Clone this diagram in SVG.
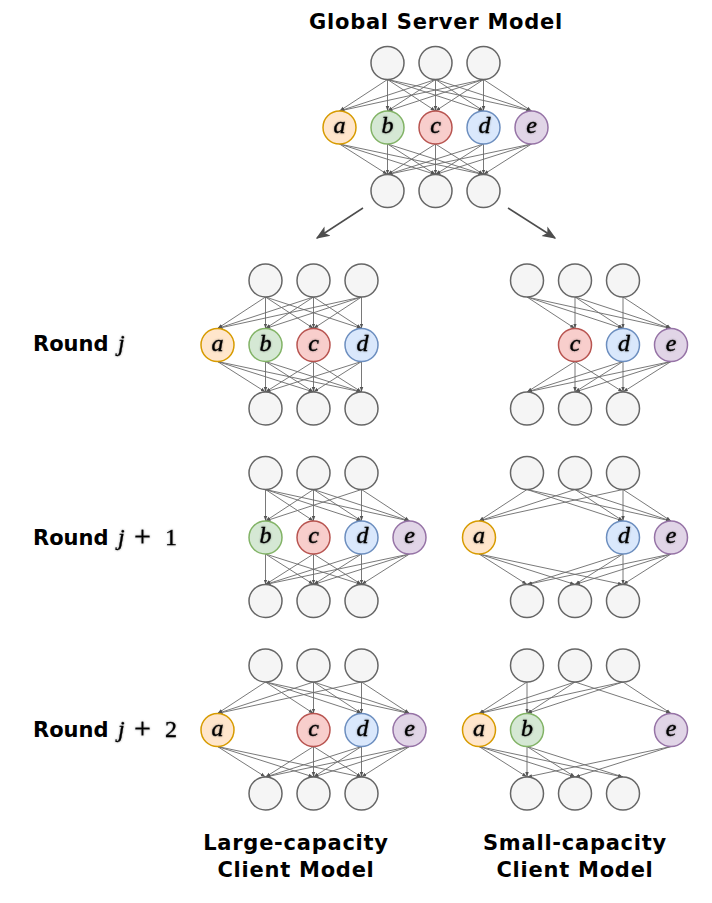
<svg xmlns="http://www.w3.org/2000/svg" width="712" height="903" viewBox="0 0 712 903">
<defs>
<style>
.n{fill:#f5f5f5;stroke:#666;stroke-width:1.5}
.na{fill:#ffe6cc;stroke:#d79b00;stroke-width:1.5}
.nb{fill:#d5e8d4;stroke:#82b366;stroke-width:1.5}
.nc{fill:#f8cecc;stroke:#b85450;stroke-width:1.5}
.nd{fill:#dae8fc;stroke:#6c8ebf;stroke-width:1.5}
.ne{fill:#e1d5e7;stroke:#9673a6;stroke-width:1.5}
.lt{font-family:"Liberation Serif","Times New Roman",serif;font-style:italic;font-size:24px;fill:#000;stroke:#000;stroke-width:0.35;text-anchor:middle;filter:url(#glow)}
.edges line{stroke:#6a6a6a;stroke-width:0.9;marker-end:url(#ah)}
.t{font-family:"DejaVu Sans",Verdana,sans-serif;font-weight:bold;font-size:21px;fill:#000}
.w{letter-spacing:0.75px}
.m{font-family:"Liberation Serif","Times New Roman",serif;font-size:24px;fill:#000;stroke:#000;stroke-width:0.3;filter:url(#glow)}
.mi{font-style:italic}
.plus{font-size:30px}
</style>
<marker id="ah" viewBox="0 0 10 10" refX="10" refY="5" markerWidth="5" markerHeight="5" markerUnits="userSpaceOnUse" orient="auto"><path d="M0,1.5L10,5L0,8.5z" fill="#555"/></marker>
<marker id="bigah" viewBox="0 0 10 10" refX="9" refY="5" markerWidth="14" markerHeight="14" markerUnits="userSpaceOnUse" orient="auto"><path d="M0,1L10,5L0,9L2.5,5z" fill="#4d4d4d"/></marker>
<filter id="glow" x="-30%" y="-30%" width="160%" height="160%">
<feGaussianBlur in="SourceAlpha" stdDeviation="1.3" result="b"/>
<feFlood flood-color="#000" flood-opacity="0.4"/>
<feComposite in2="b" operator="in" result="s"/>
<feMerge><feMergeNode in="s"/><feMergeNode in="SourceGraphic"/></feMerge>
</filter>
</defs>
<rect width="712" height="903" fill="#fff"/>

<g id="connectors" class="edges">
<!-- server top -->
<g transform="translate(0,79.5)">
<line x1="387.5" y1="0" x2="339.5" y2="31.5"/><line x1="387.5" y1="0" x2="387.5" y2="31.5"/><line x1="387.5" y1="0" x2="435.5" y2="31.5"/><line x1="387.5" y1="0" x2="483.5" y2="31.5"/><line x1="387.5" y1="0" x2="531.5" y2="31.5"/>
<line x1="435.5" y1="0" x2="339.5" y2="31.5"/><line x1="435.5" y1="0" x2="387.5" y2="31.5"/><line x1="435.5" y1="0" x2="435.5" y2="31.5"/><line x1="435.5" y1="0" x2="483.5" y2="31.5"/><line x1="435.5" y1="0" x2="531.5" y2="31.5"/>
<line x1="483.5" y1="0" x2="339.5" y2="31.5"/><line x1="483.5" y1="0" x2="387.5" y2="31.5"/><line x1="483.5" y1="0" x2="435.5" y2="31.5"/><line x1="483.5" y1="0" x2="483.5" y2="31.5"/><line x1="483.5" y1="0" x2="531.5" y2="31.5"/>
</g>
<!-- server bottom -->
<g transform="translate(0,144)">
<line x1="339.5" y1="0" x2="387.5" y2="30.5"/><line x1="339.5" y1="0" x2="435.5" y2="30.5"/><line x1="339.5" y1="0" x2="483.5" y2="30.5"/>
<line x1="387.5" y1="0" x2="387.5" y2="30.5"/><line x1="387.5" y1="0" x2="435.5" y2="30.5"/><line x1="387.5" y1="0" x2="483.5" y2="30.5"/>
<line x1="435.5" y1="0" x2="387.5" y2="30.5"/><line x1="435.5" y1="0" x2="435.5" y2="30.5"/><line x1="435.5" y1="0" x2="483.5" y2="30.5"/>
<line x1="483.5" y1="0" x2="387.5" y2="30.5"/><line x1="483.5" y1="0" x2="435.5" y2="30.5"/><line x1="483.5" y1="0" x2="483.5" y2="30.5"/>
<line x1="531.5" y1="0" x2="387.5" y2="30.5"/><line x1="531.5" y1="0" x2="435.5" y2="30.5"/><line x1="531.5" y1="0" x2="483.5" y2="30.5"/>
</g>
<!-- large j top: mids a b c d -->
<g transform="translate(0,297)">
<line x1="265.5" y1="0" x2="217.5" y2="31.5"/><line x1="265.5" y1="0" x2="265.5" y2="31.5"/><line x1="265.5" y1="0" x2="313.5" y2="31.5"/><line x1="265.5" y1="0" x2="361.5" y2="31.5"/>
<line x1="313.5" y1="0" x2="217.5" y2="31.5"/><line x1="313.5" y1="0" x2="265.5" y2="31.5"/><line x1="313.5" y1="0" x2="313.5" y2="31.5"/><line x1="313.5" y1="0" x2="361.5" y2="31.5"/>
<line x1="361.5" y1="0" x2="217.5" y2="31.5"/><line x1="361.5" y1="0" x2="265.5" y2="31.5"/><line x1="361.5" y1="0" x2="313.5" y2="31.5"/><line x1="361.5" y1="0" x2="361.5" y2="31.5"/>
</g>
<g transform="translate(0,361.5)">
<line x1="217.5" y1="0" x2="265.5" y2="30.5"/><line x1="217.5" y1="0" x2="313.5" y2="30.5"/><line x1="217.5" y1="0" x2="361.5" y2="30.5"/>
<line x1="265.5" y1="0" x2="265.5" y2="30.5"/><line x1="265.5" y1="0" x2="313.5" y2="30.5"/><line x1="265.5" y1="0" x2="361.5" y2="30.5"/>
<line x1="313.5" y1="0" x2="265.5" y2="30.5"/><line x1="313.5" y1="0" x2="313.5" y2="30.5"/><line x1="313.5" y1="0" x2="361.5" y2="30.5"/>
<line x1="361.5" y1="0" x2="265.5" y2="30.5"/><line x1="361.5" y1="0" x2="313.5" y2="30.5"/><line x1="361.5" y1="0" x2="361.5" y2="30.5"/>
</g>
<!-- small j: mids c d e -->
<g transform="translate(0,297)">
<line x1="527" y1="0" x2="575" y2="31.5"/><line x1="527" y1="0" x2="623" y2="31.5"/><line x1="527" y1="0" x2="671" y2="31.5"/>
<line x1="575" y1="0" x2="575" y2="31.5"/><line x1="575" y1="0" x2="623" y2="31.5"/><line x1="575" y1="0" x2="671" y2="31.5"/>
<line x1="623" y1="0" x2="623" y2="31.5"/><line x1="623" y1="0" x2="671" y2="31.5"/>
</g>
<g transform="translate(0,361.5)">
<line x1="575" y1="0" x2="527" y2="30.5"/><line x1="575" y1="0" x2="575" y2="30.5"/><line x1="575" y1="0" x2="623" y2="30.5"/>
<line x1="623" y1="0" x2="527" y2="30.5"/><line x1="623" y1="0" x2="575" y2="30.5"/><line x1="623" y1="0" x2="623" y2="30.5"/>
<line x1="671" y1="0" x2="527" y2="30.5"/><line x1="671" y1="0" x2="575" y2="30.5"/><line x1="671" y1="0" x2="623" y2="30.5"/>
</g>
<!-- large j+1: mids b c d e -->
<g transform="translate(0,489.5)">
<line x1="265.5" y1="0" x2="265.5" y2="31.5"/><line x1="265.5" y1="0" x2="313.5" y2="31.5"/><line x1="265.5" y1="0" x2="361.5" y2="31.5"/><line x1="265.5" y1="0" x2="409.5" y2="31.5"/>
<line x1="313.5" y1="0" x2="265.5" y2="31.5"/><line x1="313.5" y1="0" x2="313.5" y2="31.5"/><line x1="313.5" y1="0" x2="361.5" y2="31.5"/><line x1="313.5" y1="0" x2="409.5" y2="31.5"/>
<line x1="361.5" y1="0" x2="265.5" y2="31.5"/><line x1="361.5" y1="0" x2="361.5" y2="31.5"/><line x1="361.5" y1="0" x2="409.5" y2="31.5"/>
</g>
<g transform="translate(0,554)">
<line x1="265.5" y1="0" x2="265.5" y2="30.5"/><line x1="265.5" y1="0" x2="313.5" y2="30.5"/><line x1="265.5" y1="0" x2="361.5" y2="30.5"/>
<line x1="313.5" y1="0" x2="265.5" y2="30.5"/><line x1="313.5" y1="0" x2="313.5" y2="30.5"/><line x1="313.5" y1="0" x2="361.5" y2="30.5"/>
<line x1="361.5" y1="0" x2="265.5" y2="30.5"/><line x1="361.5" y1="0" x2="313.5" y2="30.5"/><line x1="361.5" y1="0" x2="361.5" y2="30.5"/>
<line x1="409.5" y1="0" x2="265.5" y2="30.5"/><line x1="409.5" y1="0" x2="313.5" y2="30.5"/><line x1="409.5" y1="0" x2="361.5" y2="30.5"/>
</g>
<!-- small j+1: mids a d e -->
<g transform="translate(0,489.5)">
<line x1="527" y1="0" x2="479" y2="31.5"/><line x1="527" y1="0" x2="623" y2="31.5"/><line x1="527" y1="0" x2="671" y2="31.5"/>
<line x1="575" y1="0" x2="479" y2="31.5"/><line x1="575" y1="0" x2="623" y2="31.5"/><line x1="575" y1="0" x2="671" y2="31.5"/>
<line x1="623" y1="0" x2="479" y2="31.5"/><line x1="623" y1="0" x2="623" y2="31.5"/><line x1="623" y1="0" x2="671" y2="31.5"/>
</g>
<g transform="translate(0,554)">
<line x1="479" y1="0" x2="527" y2="30.5"/><line x1="479" y1="0" x2="575" y2="30.5"/><line x1="479" y1="0" x2="623" y2="30.5"/>
<line x1="623" y1="0" x2="527" y2="30.5"/><line x1="623" y1="0" x2="575" y2="30.5"/><line x1="623" y1="0" x2="623" y2="30.5"/>
<line x1="671" y1="0" x2="527" y2="30.5"/><line x1="671" y1="0" x2="575" y2="30.5"/><line x1="671" y1="0" x2="623" y2="30.5"/>
</g>
<!-- large j+2: mids a c d e -->
<g transform="translate(0,682)">
<line x1="265.5" y1="0" x2="217.5" y2="31.5"/><line x1="265.5" y1="0" x2="313.5" y2="31.5"/><line x1="265.5" y1="0" x2="361.5" y2="31.5"/><line x1="265.5" y1="0" x2="409.5" y2="31.5"/>
<line x1="313.5" y1="0" x2="217.5" y2="31.5"/><line x1="313.5" y1="0" x2="313.5" y2="31.5"/><line x1="313.5" y1="0" x2="361.5" y2="31.5"/><line x1="313.5" y1="0" x2="409.5" y2="31.5"/>
<line x1="361.5" y1="0" x2="217.5" y2="31.5"/><line x1="361.5" y1="0" x2="361.5" y2="31.5"/><line x1="361.5" y1="0" x2="409.5" y2="31.5"/>
</g>
<g transform="translate(0,746.5)">
<line x1="217.5" y1="0" x2="265.5" y2="30.5"/><line x1="217.5" y1="0" x2="313.5" y2="30.5"/><line x1="217.5" y1="0" x2="361.5" y2="30.5"/>
<line x1="313.5" y1="0" x2="265.5" y2="30.5"/><line x1="313.5" y1="0" x2="313.5" y2="30.5"/><line x1="313.5" y1="0" x2="361.5" y2="30.5"/>
<line x1="361.5" y1="0" x2="265.5" y2="30.5"/><line x1="361.5" y1="0" x2="313.5" y2="30.5"/><line x1="361.5" y1="0" x2="361.5" y2="30.5"/>
<line x1="409.5" y1="0" x2="265.5" y2="30.5"/><line x1="409.5" y1="0" x2="313.5" y2="30.5"/><line x1="409.5" y1="0" x2="361.5" y2="30.5"/>
</g>
<!-- small j+2: mids a b e -->
<g transform="translate(0,682)">
<line x1="527" y1="0" x2="479" y2="31.5"/><line x1="527" y1="0" x2="527" y2="31.5"/>
<line x1="575" y1="0" x2="479" y2="31.5"/><line x1="575" y1="0" x2="527" y2="31.5"/><line x1="575" y1="0" x2="671" y2="31.5"/>
<line x1="623" y1="0" x2="479" y2="31.5"/><line x1="623" y1="0" x2="527" y2="31.5"/><line x1="623" y1="0" x2="671" y2="31.5"/>
</g>
<g transform="translate(0,746.5)">
<line x1="479" y1="0" x2="527" y2="30.5"/><line x1="479" y1="0" x2="575" y2="30.5"/><line x1="479" y1="0" x2="623" y2="30.5"/>
<line x1="527" y1="0" x2="527" y2="30.5"/><line x1="527" y1="0" x2="575" y2="30.5"/><line x1="527" y1="0" x2="623" y2="30.5"/>
<line x1="671" y1="0" x2="527" y2="30.5"/><line x1="671" y1="0" x2="575" y2="30.5"/>
</g>
<!-- distribution arrows -->
<line x1="363" y1="208" x2="317" y2="238" style="marker-end:url(#bigah);stroke:#4d4d4d;stroke-width:1.5"/>
<line x1="508" y1="208" x2="555" y2="238" style="marker-end:url(#bigah);stroke:#4d4d4d;stroke-width:1.5"/>
</g>

<!-- Server nodes -->
<g id="srv-in1"><circle class="n" cx="387.5" cy="63" r="16.5"/></g>
<g id="srv-in2"><circle class="n" cx="435.5" cy="63" r="16.5"/></g>
<g id="srv-in3"><circle class="n" cx="483.5" cy="63" r="16.5"/></g>
<g id="srv-a"><circle class="na" cx="339.5" cy="127.5" r="16.5"/><text class="lt" x="339.5" y="133">a</text></g>
<g id="srv-b"><circle class="nb" cx="387.5" cy="127.5" r="16.5"/><text class="lt" x="387.5" y="133">b</text></g>
<g id="srv-c"><circle class="nc" cx="435.5" cy="127.5" r="16.5"/><text class="lt" x="435.5" y="133">c</text></g>
<g id="srv-d"><circle class="nd" cx="483.5" cy="127.5" r="16.5"/><text class="lt" x="484.5" y="133">d</text></g>
<g id="srv-e"><circle class="ne" cx="531.5" cy="127.5" r="16.5"/><text class="lt" x="531.5" y="133">e</text></g>
<g id="srv-out1"><circle class="n" cx="387.5" cy="191" r="16.5"/></g>
<g id="srv-out2"><circle class="n" cx="435.5" cy="191" r="16.5"/></g>
<g id="srv-out3"><circle class="n" cx="483.5" cy="191" r="16.5"/></g>

<!-- Large j -->
<g id="lj-in1"><circle class="n" cx="265.5" cy="280.5" r="16.5"/></g>
<g id="lj-in2"><circle class="n" cx="313.5" cy="280.5" r="16.5"/></g>
<g id="lj-in3"><circle class="n" cx="361.5" cy="280.5" r="16.5"/></g>
<g id="lj-a"><circle class="na" cx="217.5" cy="345" r="16.5"/><text class="lt" x="217.5" y="350.5">a</text></g>
<g id="lj-b"><circle class="nb" cx="265.5" cy="345" r="16.5"/><text class="lt" x="265.5" y="350.5">b</text></g>
<g id="lj-c"><circle class="nc" cx="313.5" cy="345" r="16.5"/><text class="lt" x="313.5" y="350.5">c</text></g>
<g id="lj-d"><circle class="nd" cx="361.5" cy="345" r="16.5"/><text class="lt" x="362.5" y="350.5">d</text></g>
<g id="lj-out1"><circle class="n" cx="265.5" cy="408.5" r="16.5"/></g>
<g id="lj-out2"><circle class="n" cx="313.5" cy="408.5" r="16.5"/></g>
<g id="lj-out3"><circle class="n" cx="361.5" cy="408.5" r="16.5"/></g>

<!-- Small j -->
<g id="sj-in1"><circle class="n" cx="527" cy="280.5" r="16.5"/></g>
<g id="sj-in2"><circle class="n" cx="575" cy="280.5" r="16.5"/></g>
<g id="sj-in3"><circle class="n" cx="623" cy="280.5" r="16.5"/></g>
<g id="sj-c"><circle class="nc" cx="575" cy="345" r="16.5"/><text class="lt" x="575" y="350.5">c</text></g>
<g id="sj-d"><circle class="nd" cx="623" cy="345" r="16.5"/><text class="lt" x="624" y="350.5">d</text></g>
<g id="sj-e"><circle class="ne" cx="671" cy="345" r="16.5"/><text class="lt" x="671" y="350.5">e</text></g>
<g id="sj-out1"><circle class="n" cx="527" cy="408.5" r="16.5"/></g>
<g id="sj-out2"><circle class="n" cx="575" cy="408.5" r="16.5"/></g>
<g id="sj-out3"><circle class="n" cx="623" cy="408.5" r="16.5"/></g>

<!-- Large j+1 -->
<g id="lj1-in1"><circle class="n" cx="265.5" cy="473" r="16.5"/></g>
<g id="lj1-in2"><circle class="n" cx="313.5" cy="473" r="16.5"/></g>
<g id="lj1-in3"><circle class="n" cx="361.5" cy="473" r="16.5"/></g>
<g id="lj1-b"><circle class="nb" cx="265.5" cy="537.5" r="16.5"/><text class="lt" x="265.5" y="543">b</text></g>
<g id="lj1-c"><circle class="nc" cx="313.5" cy="537.5" r="16.5"/><text class="lt" x="313.5" y="543">c</text></g>
<g id="lj1-d"><circle class="nd" cx="361.5" cy="537.5" r="16.5"/><text class="lt" x="362.5" y="543">d</text></g>
<g id="lj1-e"><circle class="ne" cx="409.5" cy="537.5" r="16.5"/><text class="lt" x="409.5" y="543">e</text></g>
<g id="lj1-out1"><circle class="n" cx="265.5" cy="601" r="16.5"/></g>
<g id="lj1-out2"><circle class="n" cx="313.5" cy="601" r="16.5"/></g>
<g id="lj1-out3"><circle class="n" cx="361.5" cy="601" r="16.5"/></g>

<!-- Small j+1 -->
<g id="sj1-in1"><circle class="n" cx="527" cy="473" r="16.5"/></g>
<g id="sj1-in2"><circle class="n" cx="575" cy="473" r="16.5"/></g>
<g id="sj1-in3"><circle class="n" cx="623" cy="473" r="16.5"/></g>
<g id="sj1-a"><circle class="na" cx="479" cy="537.5" r="16.5"/><text class="lt" x="479" y="543">a</text></g>
<g id="sj1-d"><circle class="nd" cx="623" cy="537.5" r="16.5"/><text class="lt" x="624" y="543">d</text></g>
<g id="sj1-e"><circle class="ne" cx="671" cy="537.5" r="16.5"/><text class="lt" x="671" y="543">e</text></g>
<g id="sj1-out1"><circle class="n" cx="527" cy="601" r="16.5"/></g>
<g id="sj1-out2"><circle class="n" cx="575" cy="601" r="16.5"/></g>
<g id="sj1-out3"><circle class="n" cx="623" cy="601" r="16.5"/></g>

<!-- Large j+2 -->
<g id="lj2-in1"><circle class="n" cx="265.5" cy="665.5" r="16.5"/></g>
<g id="lj2-in2"><circle class="n" cx="313.5" cy="665.5" r="16.5"/></g>
<g id="lj2-in3"><circle class="n" cx="361.5" cy="665.5" r="16.5"/></g>
<g id="lj2-a"><circle class="na" cx="217.5" cy="730" r="16.5"/><text class="lt" x="217.5" y="735.5">a</text></g>
<g id="lj2-c"><circle class="nc" cx="313.5" cy="730" r="16.5"/><text class="lt" x="313.5" y="735.5">c</text></g>
<g id="lj2-d"><circle class="nd" cx="361.5" cy="730" r="16.5"/><text class="lt" x="362.5" y="735.5">d</text></g>
<g id="lj2-e"><circle class="ne" cx="409.5" cy="730" r="16.5"/><text class="lt" x="409.5" y="735.5">e</text></g>
<g id="lj2-out1"><circle class="n" cx="265.5" cy="793.5" r="16.5"/></g>
<g id="lj2-out2"><circle class="n" cx="313.5" cy="793.5" r="16.5"/></g>
<g id="lj2-out3"><circle class="n" cx="361.5" cy="793.5" r="16.5"/></g>

<!-- Small j+2 -->
<g id="sj2-in1"><circle class="n" cx="527" cy="665.5" r="16.5"/></g>
<g id="sj2-in2"><circle class="n" cx="575" cy="665.5" r="16.5"/></g>
<g id="sj2-in3"><circle class="n" cx="623" cy="665.5" r="16.5"/></g>
<g id="sj2-a"><circle class="na" cx="479" cy="730" r="16.5"/><text class="lt" x="479" y="735.5">a</text></g>
<g id="sj2-b"><circle class="nb" cx="527" cy="730" r="16.5"/><text class="lt" x="527" y="735.5">b</text></g>
<g id="sj2-e"><circle class="ne" cx="671" cy="730" r="16.5"/><text class="lt" x="671" y="735.5">e</text></g>
<g id="sj2-out1"><circle class="n" cx="527" cy="793.5" r="16.5"/></g>
<g id="sj2-out2"><circle class="n" cx="575" cy="793.5" r="16.5"/></g>
<g id="sj2-out3"><circle class="n" cx="623" cy="793.5" r="16.5"/></g>

<!-- Labels -->
<g id="labels">
<text class="t w" x="436" y="29" text-anchor="middle">Global Server Model</text>
<text class="t" x="33" y="351">Round</text>
<text class="m mi" x="118" y="351">j</text>
<text class="t" x="33" y="545">Round</text>
<text class="m" y="545"><tspan class="mi" x="118">j</tspan><tspan class="plus" x="134" dy="1">+</tspan><tspan x="165" dy="-1">1</tspan></text>
<text class="t" x="33" y="737">Round</text>
<text class="m" y="737"><tspan class="mi" x="118">j</tspan><tspan class="plus" x="134" dy="1">+</tspan><tspan x="165" dy="-1">2</tspan></text>
<text class="t w" x="296" y="850" text-anchor="middle">Large-capacity</text>
<text class="t w" x="296" y="877" text-anchor="middle">Client Model</text>
<text class="t w" x="575" y="850" text-anchor="middle">Small-capacity</text>
<text class="t w" x="575" y="877" text-anchor="middle">Client Model</text>
</g>
</svg>
